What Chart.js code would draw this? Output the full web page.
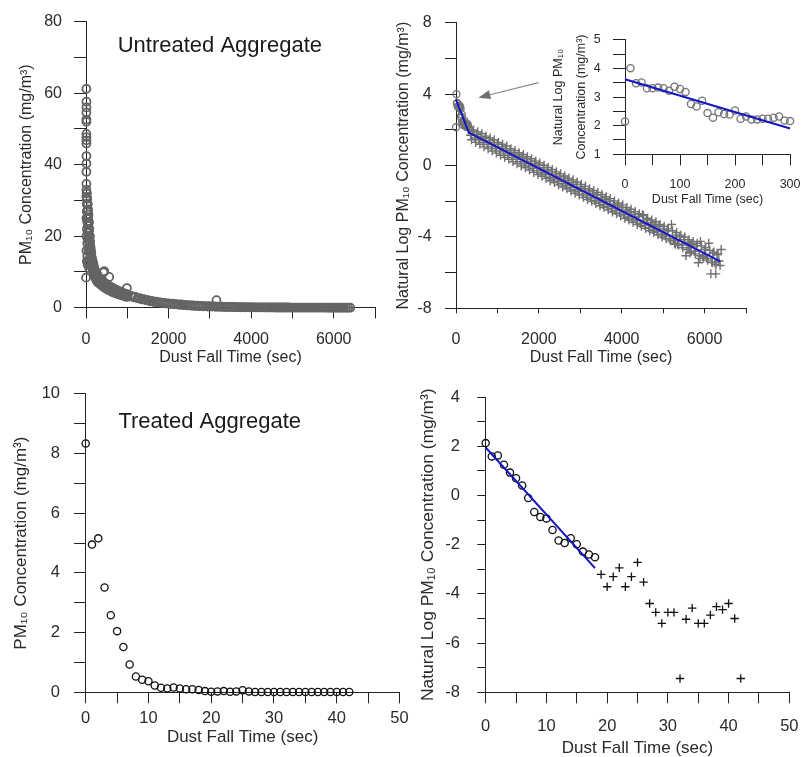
<!DOCTYPE html>
<html>
<head>
<meta charset="utf-8">
<script src="https://cdn.jsdelivr.net/npm/chart.js@4.4.0/dist/chart.umd.min.js"></script>
<style>
  html, body { margin: 0; padding: 0; background: #fff; }
  #fig { position: relative; width: 812px; height: 757px; overflow: hidden; }
  canvas { position: absolute; }
</style>
</head>
<body>
<div id="fig">
  <canvas id="untreated" width="390" height="370" style="left:0;top:0"></canvas>
  <canvas id="untreatedLog" width="422" height="370" style="left:390px;top:0"></canvas>
  <canvas id="inset" width="272" height="190" style="left:540px;top:20px"></canvas>
  <canvas id="treated" width="420" height="387" style="left:0;top:370px"></canvas>
  <canvas id="treatedLog" width="422" height="387" style="left:390px;top:370px"></canvas>
</div>
<script>
// ---- untreated aggregate, PM10 (mg/m3) vs time (sec) ----
// odd points: the spike column near t=0, outliers, and the lower edge of the early band
var utOddTime = [10, 10, 10, 10, 10, 10, 10, 10, 10, 10, 10, 10, 10, 10, 0, 87, 425, 441, 562, 990, 3160,
  10, 10, 10, 20, 20, 30, 40, 20, 30, 40, 50, 60, 30, 50, 70, 80];
var utOddConc = [61.2, 57.6, 56.0, 54.6, 52.6, 52.0, 48.6, 47.7, 46.8, 45.9, 42.4, 40.3, 38.0, 34.6, 8.4, 20, 9.9, 10.2, 8.6, 5.5, 2.1,
  25, 20, 16, 22, 13, 18, 12, 27, 24, 21, 19, 16, 14.5, 13, 12.5, 11];
var utEarlyTime = [10, 20, 30, 40, 50, 60, 70, 80, 90, 100, 110, 120, 130, 140, 150, 160, 170, 180, 190, 200, 220, 240, 260, 280, 300];
var utEarlyHigh = [33, 32, 30.5, 29, 27.5, 26, 24, 22, 20, 18.5, 17, 16, 15, 14, 13.5, 13, 12.5, 12, 11.5, 11, 10.5, 10, 9.5, 9, 8.5];
var utEarlyLow = [31, 29, 27, 25, 23, 21, 19.5, 18, 16.5, 15.5, 14.5, 13.5, 12.5, 12, 11.5, 11, 10.5, 10, 9.5, 9, 8.5, 8, 7.5, 7.2, 7];
var utEarlyMidTime = [15, 25, 35, 45, 55, 65, 75, 85, 95, 105, 115, 125, 135, 145, 155, 165, 175, 185, 195, 205, 230, 250, 270, 290, 310];
var utEarlyMid = [32, 30.5, 28.8, 27, 25.2, 23.5, 21.8, 20, 18.2, 17, 15.8, 14.8, 13.8, 13, 12.5, 12, 11.5, 11, 10.5, 10, 9.5, 9, 8.5, 8.1, 7.8];
var utMidTime = [350, 400, 450, 500, 550, 600, 650, 700, 750, 800, 850, 900, 950, 1000];
var utMidHigh = [8.0, 7.5, 7.0, 6.6, 6.2, 5.8, 5.5, 5.2, 4.9, 4.6, 4.4, 4.1, 3.9, 3.7];
var utMidLow = [6.5, 6.0, 5.6, 5.2, 4.9, 4.6, 4.3, 4.1, 3.9, 3.7, 3.5, 3.3, 3.1, 3.0];
var utMidMidTime = [375, 425, 475, 525, 575, 625, 675, 725, 775, 825, 875, 925, 975];
var utMidMid = [7.2, 6.8, 6.3, 5.9, 5.5, 5.2, 4.9, 4.6, 4.3, 4.0, 3.8, 3.6, 3.4];
var utTailTime = [1100, 1200, 1300, 1400, 1500, 1600, 1700, 1800, 1900, 2000, 2100, 2200, 2300, 2400, 2500, 2600, 2700, 2800, 2900, 3000, 3100, 3200, 3300, 3400, 3500, 3600, 3700, 3800, 3900, 4000];
var utTailHigh = [3.3, 3.0, 2.7, 2.4, 2.1, 1.9, 1.7, 1.5, 1.35, 1.2, 1.1, 1.0, 0.9, 0.8, 0.7, 0.62, 0.55, 0.5, 0.45, 0.4, 0.35, 0.32, 0.28, 0.25, 0.22, 0.2, 0.18, 0.16, 0.14, 0.12];
var utTailLowTime = [1150, 1250, 1350, 1450, 1550, 1650, 1750, 1850, 1950, 2050, 2150, 2250, 2350, 2450, 2550, 2650, 2750, 2850, 2950, 3050, 3150, 3250, 3350, 3450, 3550, 3650, 3750, 3850, 3950, 4050];
var utTailLow = [2.9, 2.6, 2.3, 2.1, 1.8, 1.6, 1.45, 1.3, 1.15, 1.0, 0.92, 0.82, 0.72, 0.64, 0.56, 0.5, 0.44, 0.38, 0.34, 0.3, 0.26, 0.23, 0.2, 0.18, 0.16, 0.14, 0.12, 0.11, 0.1, 0.09];
var utEndTime = [4100, 4150, 4200, 4250, 4300, 4350, 4400, 4450, 4500, 4550, 4600, 4650, 4700, 4750, 4800, 4850, 4900, 4950, 5000, 5050, 5100, 5150, 5200, 5250, 5300, 5350, 5400, 5450, 5500, 5550, 5600, 5650, 5700, 5750, 5800, 5850, 5900, 5950, 6000, 6050, 6100, 6150, 6200, 6250, 6300, 6350, 6400];
var utEndConc = [0.11, 0.1, 0.1, 0.09, 0.09, 0.08, 0.08, 0.07, 0.07, 0.07, 0.06, 0.06, 0.06, 0.05, 0.05, 0.05, 0.05, 0.04, 0.04, 0.04, 0.04, 0.03, 0.03, 0.03, 0.03, 0.03, 0.03, 0.02, 0.02, 0.02, 0.02, 0.02, 0.02, 0.02, 0.02, 0.01, 0.01, 0.01, 0.01, 0.01, 0.01, 0.01, 0.01, 0.01, 0.01, 0.01, 0.01];

// ---- untreated aggregate, natural log ----
// first 300 s (circles, also the inset)
var earlyTime = [0, 10, 20, 30, 40, 50, 60, 70, 80, 90, 100, 110, 120, 130, 140, 150, 160, 170, 180, 190, 200, 210, 220, 230, 240, 250, 260, 270, 280, 290, 300];
var earlyLn = [2.15, 4.01, 3.48, 3.51, 3.31, 3.31, 3.33, 3.31, 3.22, 3.36, 3.28, 3.18, 2.76, 2.67, 2.87, 2.44, 2.28, 2.47, 2.41, 2.39, 2.53, 2.24, 2.32, 2.22, 2.22, 2.24, 2.24, 2.28, 2.32, 2.18, 2.16];
// after 300 s (crosses), four interleaved rows across the band
var lnTimeA = [300, 400, 500, 600, 700, 800, 900, 1000, 1100, 1200, 1300, 1400, 1500, 1600, 1700, 1800, 1900, 2000, 2100, 2200, 2300, 2400, 2500, 2600, 2700, 2800, 2900, 3000, 3100, 3200, 3300, 3400, 3500, 3600, 3700, 3800, 3900, 4000, 4100, 4200, 4300, 4400, 4500, 4600, 4700, 4800, 4900, 5000, 5100, 5200, 5300, 5400, 5500, 5600, 5700, 5800, 5900, 6000, 6100, 6200, 6300, 6400];
var lnValueA = [2.0, 1.9, 1.75, 1.62, 1.55, 1.4, 1.3, 1.2, 1.05, 0.95, 0.85, 0.72, 0.6, 0.5, 0.38, 0.25, 0.12, 0.02, -0.12, -0.25, -0.35, -0.48, -0.6, -0.7, -0.82, -0.95, -1.05, -1.2, -1.3, -1.42, -1.55, -1.65, -1.8, -1.9, -2.0, -2.15, -2.25, -2.35, -2.5, -2.6, -2.72, -2.85, -2.75, -3.05, -3.2, -3.3, -3.4, -3.55, -3.65, -3.3, -3.9, -4.0, -4.15, -4.3, -4.4, -4.5, -4.25, -4.7, -4.35, -4.9, -5.0, -4.7];
var lnTimeB = [350, 450, 550, 650, 750, 850, 950, 1050, 1150, 1250, 1350, 1450, 1550, 1650, 1750, 1850, 1950, 2050, 2150, 2250, 2350, 2450, 2550, 2650, 2750, 2850, 2950, 3050, 3150, 3250, 3350, 3450, 3550, 3650, 3750, 3850, 3950, 4050, 4150, 4250, 4350, 4450, 4550, 4650, 4750, 4850, 4950, 5050, 5150, 5250, 5350, 5450, 5550, 5650, 5750, 5850, 5950, 6050, 6150, 6250, 6350];
var lnValueB = [1.7, 1.55, 1.45, 1.3, 1.2, 1.05, 0.95, 0.82, 0.7, 0.58, 0.45, 0.35, 0.22, 0.1, -0.02, -0.15, -0.28, -0.4, -0.5, -0.65, -0.75, -0.88, -1.0, -1.1, -1.22, -1.35, -1.45, -1.6, -1.7, -1.82, -1.95, -2.05, -2.18, -2.3, -2.4, -2.52, -2.65, -2.75, -2.88, -3.0, -3.1, -3.25, -3.35, -3.48, -3.6, -3.7, -3.85, -3.95, -4.1, -4.2, -4.4, -4.45, -5.05, -4.9, -4.8, -5.45, -5.1, -5.2, -6.07, -5.45, -5.35];
var lnTimeC = [325, 425, 525, 625, 725, 825, 925, 1025, 1125, 1225, 1325, 1425, 1525, 1625, 1725, 1825, 1925, 2025, 2125, 2225, 2325, 2425, 2525, 2625, 2725, 2825, 2925, 3025, 3125, 3225, 3325, 3425, 3525, 3625, 3725, 3825, 3925, 4025, 4125, 4225, 4325, 4425, 4525, 4625, 4725, 4825, 4925, 5025, 5125, 5225, 5325, 5425, 5525, 5625, 5725, 5825, 5925, 6025, 6125, 6225, 6325];
var lnValueC = [2.15, 2.0, 1.9, 1.8, 1.65, 1.55, 1.45, 1.3, 1.2, 1.1, 0.95, 0.85, 0.72, 0.62, 0.5, 0.38, 0.25, 0.15, 0.02, -0.1, -0.22, -0.35, -0.45, -0.58, -0.7, -0.8, -0.92, -1.05, -1.15, -1.3, -1.4, -1.5, -1.62, -1.75, -1.85, -1.98, -2.1, -2.2, -2.35, -2.45, -2.58, -2.7, -2.8, -2.95, -3.05, -3.15, -3.3, -3.4, -3.55, -3.65, -3.75, -3.9, -4.0, -4.15, -4.25, -4.35, -4.5, -4.6, -4.75, -4.85, -4.95];
var lnTimeD = [375, 475, 575, 675, 775, 875, 975, 1075, 1175, 1275, 1375, 1475, 1575, 1675, 1775, 1875, 1975, 2075, 2175, 2275, 2375, 2475, 2575, 2675, 2775, 2875, 2975, 3075, 3175, 3275, 3375, 3475, 3575, 3675, 3775, 3875, 3975, 4075, 4175, 4275, 4375, 4475, 4575, 4675, 4775, 4875, 4975, 5075, 5175, 5275, 5375, 5475, 5575, 5675, 5775, 5875, 5975, 6075, 6175, 6275, 6375];
var lnValueD = [1.45, 1.3, 1.2, 1.05, 0.95, 0.82, 0.7, 0.58, 0.45, 0.35, 0.22, 0.1, -0.02, -0.12, -0.25, -0.38, -0.5, -0.6, -0.72, -0.85, -0.95, -1.08, -1.2, -1.3, -1.42, -1.55, -1.65, -1.78, -1.9, -2.0, -2.12, -2.25, -2.35, -2.48, -2.6, -2.7, -2.82, -2.95, -3.05, -3.18, -3.3, -3.4, -3.52, -3.65, -3.75, -3.88, -4.0, -4.1, -4.22, -4.35, -4.45, -4.6, -4.7, -4.82, -4.95, -5.05, -5.2, -5.3, -5.42, -5.55, -5.6];
var lnOddTime = [6270, 6190, 5620, 4780, 5300, 5660, 6020, 5890];
var lnOddValue = [-6.07, -5.43, -4.6, -3.6, -4.41, -4.41, -5.0, -5.2];
var utFitTime = [0, 310, 6380];
var utFitLn = [3.7, 1.85, -5.37];
var insetFitTime = [0, 300];
var insetFitLn = [3.62, 1.9];

// ---- treated aggregate ----
var trTime = [0, 1, 2, 3, 4, 5, 6, 7, 8, 9, 10, 11, 12, 13, 14, 15, 16, 17, 18, 19, 20, 21, 22, 23, 24, 25, 26, 27, 28, 29, 30, 31, 32, 33, 34, 35, 36, 37, 38, 39, 40, 41, 42];
var trConc = [8.34, 4.95, 5.16, 3.51, 2.58, 2.05, 1.52, 0.93, 0.53, 0.42, 0.37, 0.23, 0.15, 0.13, 0.16, 0.13, 0.10, 0.10, 0.08, 0.04, 0.02, 0.03, 0.04, 0.02, 0.03, 0.07, 0.03, 0.01, 0.01, 0.01, 0.01, 0.01, 0.01, 0.01, 0.01, 0.01, 0.01, 0.01, 0.01, 0.01, 0.01, 0.01, 0.01];
var trFitTime = [0, 18];
var trFitLn = [1.95, -2.95];
var trCircleTime = [0, 1, 2, 3, 4, 5, 6, 7, 8, 9, 10, 11, 12, 13, 14, 15, 16, 17, 18];
var trCircleLn = [2.13, 1.59, 1.63, 1.25, 0.93, 0.70, 0.41, -0.10, -0.67, -0.87, -0.93, -1.40, -1.83, -1.93, -1.74, -1.98, -2.28, -2.40, -2.51];
var trCrossTime = [19, 20, 21, 22, 23, 24, 25, 26, 27, 28, 29, 30, 31, 32, 33, 34, 35, 36, 37, 38, 39, 40, 41, 42];
var trCrossLn = [-3.21, -3.71, -3.30, -2.94, -3.71, -3.30, -2.72, -3.52, -4.39, -4.75, -5.20, -4.75, -4.75, -7.44, -5.03, -4.58, -5.20, -5.20, -4.86, -4.52, -4.64, -4.39, -5.00, -7.44];

var FONT = '"Liberation Sans", Arial, Helvetica, sans-serif';
var INK = '#222';
var TEXT = '#2a2a2a';
var BLUE = '#1414c8';

function pts(xs, ys) {
  return xs.map(function (x, i) { return {x: x, y: ys[i]}; });
}

function circles(data, color, r, bw) {
  return {data: data, showLine: false, clip: false, pointStyle: 'circle', pointRadius: r,
    pointBorderWidth: bw, pointBorderColor: color, pointBackgroundColor: 'rgba(0,0,0,0)'};
}
function crosses(data, color, r, bw) {
  return {data: data, showLine: false, clip: false, pointStyle: 'cross', pointRadius: r,
    pointBorderWidth: bw, pointBorderColor: color, pointBackgroundColor: color};
}
function fitLine(data) {
  return {data: data, showLine: true, clip: false, borderColor: BLUE, borderWidth: 2, pointRadius: 0};
}

function axis(o) {
  return {
    type: 'linear',
    position: o.pos,
    min: o.min,
    max: o.max,
    border: {display: true, color: INK, width: 1},
    grid: {drawOnChartArea: false, drawTicks: true, tickLength: o.tick, tickColor: INK, tickWidth: 1},
    ticks: {
      stepSize: o.step, autoSkip: false, maxRotation: 0, padding: o.pad,
      color: TEXT, font: {family: FONT, size: o.font},
      callback: function (v) {
        var r = v / o.every;
        return Math.abs(r - Math.round(r)) < 1e-6 ? String(Math.round(v * 100) / 100) : '';
      }
    },
    title: {display: true, text: o.title, color: TEXT,
      font: {family: FONT, size: o.titleSize, lineHeight: o.titleLH || 1.2}, padding: o.titlePad},
    afterFit: function (s) { if (o.pos === 'left') s.width = o.size; else s.height = o.size; }
  };
}

// panel label text and the arrow, placed in data units
var panelNotes = {
  id: 'panelNotes',
  afterDatasetsDraw: function (chart, args, opts) {
    var ctx = chart.ctx, x = chart.scales.x, y = chart.scales.y;
    ctx.save();
    if (opts.text) {
      ctx.font = opts.size + 'px ' + FONT;
      ctx.fillStyle = '#1a1a1a';
      ctx.textAlign = 'center';
      ctx.textBaseline = 'middle';
      ctx.fillText(opts.text, x.getPixelForValue(opts.at[0]), y.getPixelForValue(opts.at[1]));
    }
    if (opts.arrow) {
      var fx = x.getPixelForValue(opts.arrow.from[0]), fy = y.getPixelForValue(opts.arrow.from[1]);
      var tx = x.getPixelForValue(opts.arrow.to[0]), ty = y.getPixelForValue(opts.arrow.to[1]);
      var ang = Math.atan2(ty - fy, tx - fx), L = 12, W = 4.5;
      var bx = tx - L * Math.cos(ang), by = ty - L * Math.sin(ang);
      ctx.strokeStyle = '#8a8a8a';
      ctx.lineWidth = 1.2;
      ctx.beginPath(); ctx.moveTo(fx, fy); ctx.lineTo(bx, by); ctx.stroke();
      ctx.fillStyle = '#707070';
      ctx.beginPath();
      ctx.moveTo(tx, ty);
      ctx.lineTo(bx + W * Math.sin(ang), by - W * Math.cos(ang));
      ctx.lineTo(bx - W * Math.sin(ang), by + W * Math.cos(ang));
      ctx.closePath(); ctx.fill();
    }
    ctx.restore();
  }
};

function panel(id, cfg) {
  return new Chart(document.getElementById(id), {
    type: 'scatter',
    data: {datasets: cfg.datasets},
    options: {
      responsive: false, animation: false, events: [],
      layout: {padding: cfg.padding},
      plugins: {legend: {display: false}, tooltip: {enabled: false}, panelNotes: cfg.notes || {}},
      scales: {x: axis(cfg.x), y: axis(cfg.y)}
    },
    plugins: [panelNotes]
  });
}

var PM = 'PM\u2081\u2080 Concentration (mg/m\u00b3)';
var LNPM = 'Natural Log PM\u2081\u2080 Concentration (mg/m\u00b3)';
var TIME = 'Dust Fall Time (sec)';

var utData = [].concat(
  pts(utOddTime, utOddConc), pts(utEarlyTime, utEarlyHigh), pts(utEarlyTime, utEarlyLow),
  pts(utEarlyMidTime, utEarlyMid), pts(utMidTime, utMidHigh), pts(utMidTime, utMidLow),
  pts(utMidMidTime, utMidMid), pts(utTailTime, utTailHigh), pts(utTailLowTime, utTailLow),
  pts(utEndTime, utEndConc));

var lnData = [].concat(
  pts(lnTimeA, lnValueA), pts(lnTimeB, lnValueB), pts(lnTimeC, lnValueC),
  pts(lnTimeD, lnValueD), pts(lnOddTime, lnOddValue));

panel('untreated', {
  padding: {left: 0, top: 18, right: 15, bottom: 0},
  datasets: [circles(utData, '#646464', 4, 1.8)],
  notes: {text: 'Untreated Aggregate', at: [3242, 73.1], size: 22},
  x: {pos: 'bottom', min: 0, max: 7000, step: 1000, every: 2000, tick: 10.7, pad: 12, font: 16, size: 62.3,
      title: TIME, titleSize: 16, titlePad: {bottom: 2.4}},
  y: {pos: 'left', min: 0, max: 80, step: 10, every: 20, tick: 12, pad: 12, font: 16, size: 86,
      title: PM, titleSize: 16, titlePad: {top: 17}}
});

panel('untreatedLog', {
  padding: {left: 0, top: 18.3, right: 66, bottom: 0},
  datasets: [
    fitLine(pts(utFitTime, utFitLn)),
    circles(pts(earlyTime, earlyLn), '#747474', 3.5, 1.3),
    crosses(lnData, '#727272', 4.5, 1.4)
  ],
  notes: {arrow: {from: [1991, 4.65], to: [540, 3.81]}},
  x: {pos: 'bottom', min: 0, max: 7000, step: 1000, every: 2000, tick: 5, pad: 17, font: 16, size: 61.7,
      title: TIME, titleSize: 16, titlePad: {bottom: 2.4}},
  y: {pos: 'left', min: -8, max: 8, step: 2, every: 4, tick: 11, pad: 13.3, font: 16, size: 66,
      title: LNPM, titleSize: 16, titlePad: {top: 3.7}}
});

panel('inset', {
  padding: {left: 0, top: 18.3, right: 9.7, bottom: 0},
  datasets: [
    fitLine(pts(insetFitTime, insetFitLn)),
    circles(pts(earlyTime, earlyLn), '#747474', 3.6, 1.3)
  ],
  x: {pos: 'bottom', min: 0, max: 300, step: 50, every: 100, tick: 11, pad: 11.5, font: 12.5, size: 55.7,
      title: TIME, titleSize: 12.5, titlePad: {bottom: 3.2}},
  y: {pos: 'left', min: 1, max: 5, step: 0.5, every: 1, tick: 12, pad: 12.3, font: 12.5, size: 85,
      title: ['Natural Log PM\u2081\u2080', 'Concentration (mg/m\u00b3)'], titleSize: 12.5, titleLH: 1.86,
      titlePad: {top: 6.7}}
});

panel('treated', {
  padding: {left: 0, top: 10, right: 20.5, bottom: 0},
  datasets: [circles(pts(trTime, trConc), '#111', 3.6, 1.3)],
  notes: {text: 'Treated Aggregate', at: [19.76, 9.06], size: 22},
  x: {pos: 'bottom', min: 0, max: 50, step: 5, every: 10, tick: 11, pad: 5.1, font: 16.5, size: 64.7,
      title: TIME, titleSize: 17, titlePad: {bottom: 9.8}},
  y: {pos: 'left', min: 0, max: 10, step: 1, every: 2, tick: 11.7, pad: 14, font: 16.5, size: 85.7,
      title: PM, titleSize: 17, titlePad: {top: 11.5}}
});

panel('treatedLog', {
  padding: {left: 0, top: 10, right: 13.7, bottom: 0},
  datasets: [
    fitLine(pts(trFitTime, trFitLn)),
    circles(pts(trCircleTime, trCircleLn), '#111', 3.6, 1.3),
    crosses(pts(trCrossTime, trCrossLn), '#111', 4.2, 1.3)
  ],
  x: {pos: 'bottom', min: 0, max: 50, step: 5, every: 10, tick: 11, pad: 13.5, font: 16.5, size: 64.7,
      title: TIME, titleSize: 17, titleLH: 1.0, titlePad: {bottom: 0.2}},
  y: {pos: 'left', min: -8, max: 4, step: 1, every: 2, tick: 8.5, pad: 17.2, font: 16.5, size: 95.7,
      title: LNPM, titleSize: 17.4, titlePad: {top: 28.1}}
});
</script>
</body>
</html>
